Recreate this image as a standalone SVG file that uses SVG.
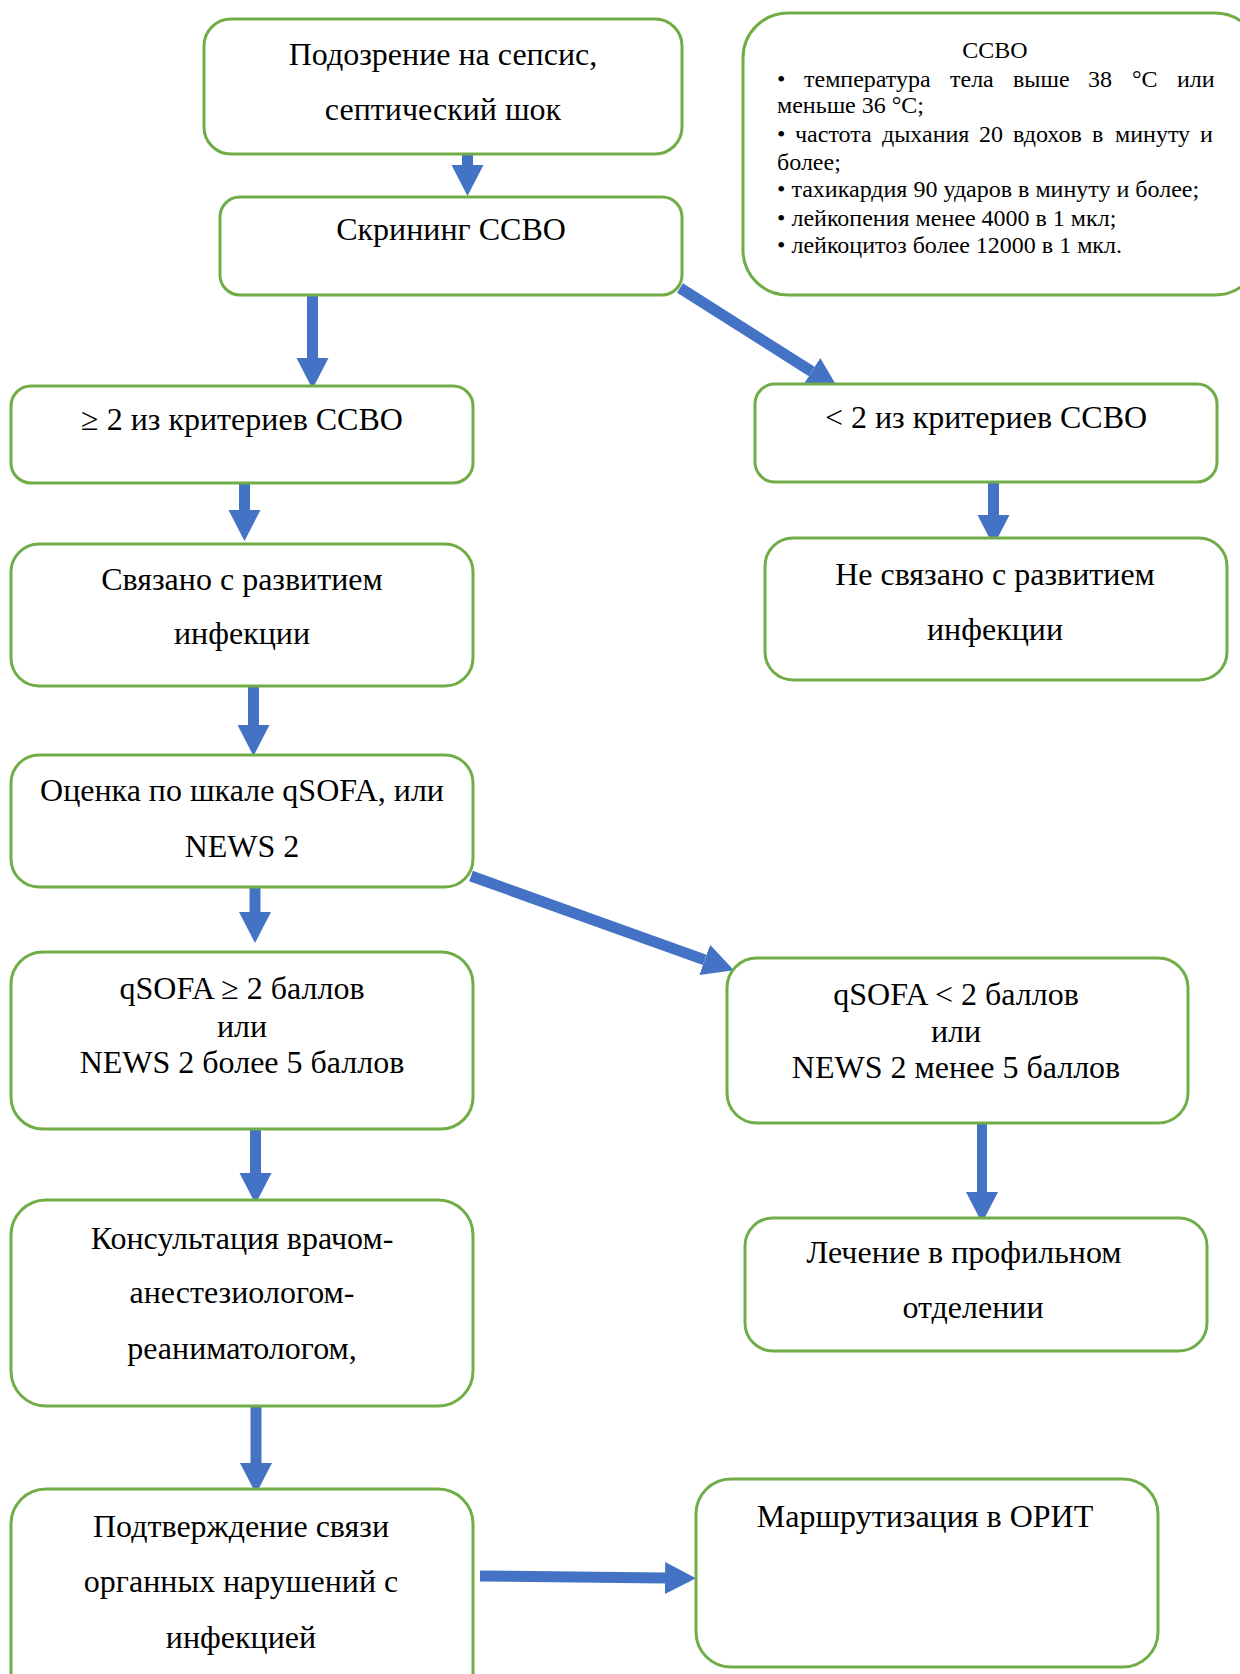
<svg xmlns="http://www.w3.org/2000/svg" width="1240" height="1674" viewBox="0 0 1240 1674">
<defs>
<style>
.box{fill:#fff;stroke:#70AD47;stroke-width:3}
.t{font-family:"Liberation Serif","Times New Roman",serif;font-size:32px;fill:#000;text-anchor:middle}
.s{font-family:"Liberation Serif","Times New Roman",serif;font-size:24px;fill:#000}
.arr{stroke:#4472C4;stroke-width:11;fill:none;marker-end:url(#head)}
</style>
<marker id="head" markerUnits="userSpaceOnUse" markerWidth="32" markerHeight="34" refX="0" refY="17" orient="auto" viewBox="0 0 32 34">
<path d="M0,1 L31,17 L0,33 Z" fill="#4472C4"/>
</marker>
</defs>
<rect width="1240" height="1674" fill="#fff"/>

<g id="connectors">
<line class="arr" x1="467.5" y1="147" x2="467.5" y2="165"/>
<line class="arr" x1="312.5" y1="289" x2="312.5" y2="358"/>
<line class="arr" x1="244.5" y1="479" x2="244.5" y2="510"/>
<line class="arr" x1="253.5" y1="686" x2="253.5" y2="725"/>
<line class="arr" x1="255" y1="883" x2="255" y2="912"/>
<line class="arr" x1="255.5" y1="1122" x2="255.5" y2="1173"/>
<line class="arr" x1="256" y1="1399" x2="256" y2="1463"/>
<line class="arr" x1="993.5" y1="482" x2="993.5" y2="515"/>
<line class="arr" x1="982" y1="1123" x2="982" y2="1192" style="stroke-width:10"/>
<line class="arr" x1="680" y1="288" x2="811.7" y2="371.5"/>
<line class="arr" x1="471" y1="876" x2="704.7" y2="959.9"/>
<line class="arr" x1="480" y1="1576" x2="665" y2="1578"/>
</g>

<g id="n-suspicion">
<rect class="box" x="204" y="19" width="478" height="135" rx="27"/>
<text class="t" x="443" y="65">Подозрение на сепсис,</text>
<text class="t" x="443" y="120">септический шок</text>
</g>

<g id="n-screening">
<rect class="box" x="220" y="197" width="462" height="98" rx="20"/>
<text class="t" x="451" y="240">Скрининг ССВО</text>
</g>

<g id="n-ssvo-info">
<rect class="box" x="743" y="13" width="517" height="282" rx="45"/>
<text class="s" x="995" y="58" text-anchor="middle">ССВО</text>
<text class="s" y="87"><tspan x="777">•</tspan><tspan x="804">температура</tspan><tspan x="950">тела</tspan><tspan x="1013">выше</tspan><tspan x="1088">38</tspan><tspan x="1132">°C</tspan><tspan x="1177">или</tspan></text>
<text class="s" x="777" y="113">меньше 36 °C;</text>
<text class="s" y="142"><tspan x="777">•</tspan><tspan x="795">частота</tspan><tspan x="882">дыхания</tspan><tspan x="979">20</tspan><tspan x="1013">вдохов</tspan><tspan x="1092">в</tspan><tspan x="1115">минуту</tspan><tspan x="1200">и</tspan></text>
<text class="s" x="777" y="170">более;</text>
<text class="s" x="777" y="197">• тахикардия 90 ударов в минуту и более;</text>
<text class="s" x="777" y="226">• лейкопения менее 4000 в 1 мкл;</text>
<text class="s" x="777" y="253">• лейкоцитоз более 12000 в 1 мкл.</text>
</g>

<g id="n-ge2">
<rect class="box" x="11" y="386" width="462" height="97" rx="20"/>
<text class="t" x="242" y="430">≥ 2 из критериев ССВО</text>
</g>

<g id="n-lt2">
<rect class="box" x="755" y="384" width="462" height="98" rx="20"/>
<text class="t" x="986" y="428">&lt; 2 из критериев ССВО</text>
</g>

<g id="n-infection">
<rect class="box" x="11" y="544" width="462" height="142" rx="28"/>
<text class="t" x="242" y="590">Связано с развитием</text>
<text class="t" x="242" y="644">инфекции</text>
</g>

<g id="n-no-infection">
<rect class="box" x="765" y="538" width="462" height="142" rx="28"/>
<text class="t" x="995" y="585">Не связано с развитием</text>
<text class="t" x="995" y="640">инфекции</text>
</g>

<g id="n-assessment">
<rect class="box" x="11" y="755" width="462" height="132" rx="28"/>
<text class="t" x="242" y="801">Оценка по шкале qSOFA, или</text>
<text class="t" x="242" y="857">NEWS 2</text>
</g>

<g id="n-qsofa-high">
<rect class="box" x="11" y="952" width="462" height="177" rx="32"/>
<text class="t" x="242" y="999">qSOFA ≥ 2 баллов</text>
<text class="t" x="242" y="1037">или</text>
<text class="t" x="242" y="1073">NEWS 2 более 5 баллов</text>
</g>

<g id="n-qsofa-low">
<rect class="box" x="727" y="958" width="461" height="165" rx="30"/>
<text class="t" x="956" y="1005">qSOFA &lt; 2 баллов</text>
<text class="t" x="956" y="1042">или</text>
<text class="t" x="956" y="1078">NEWS 2 менее 5 баллов</text>
</g>

<g id="n-consult">
<rect class="box" x="11" y="1200" width="462" height="206" rx="35"/>
<text class="t" x="242" y="1249">Консультация врачом-</text>
<text class="t" x="242" y="1303">анестезиологом-</text>
<text class="t" x="242" y="1359">реаниматологом,</text>
</g>

<g id="n-treatment">
<rect class="box" x="745" y="1218" width="462" height="133" rx="28"/>
<text class="t" x="964" y="1263">Лечение в профильном</text>
<text class="t" x="973" y="1318">отделении</text>
</g>

<g id="n-confirm">
<rect class="box" x="11" y="1489" width="462" height="220" rx="35"/>
<text class="t" x="241" y="1537">Подтверждение связи</text>
<text class="t" x="241" y="1592">органных нарушений с</text>
<text class="t" x="241" y="1648">инфекцией</text>
</g>

<g id="n-icu">
<rect class="box" x="696" y="1479" width="462" height="188" rx="35"/>
<text class="t" x="925" y="1527">Маршрутизация в ОРИТ</text>
</g>
</svg>
